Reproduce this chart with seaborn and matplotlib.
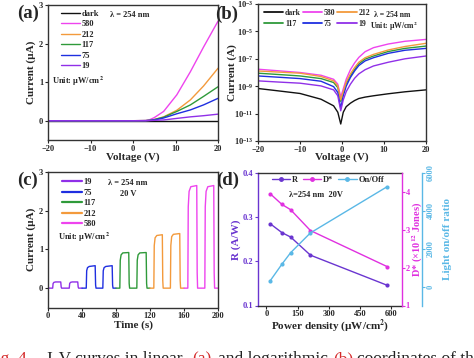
import numpy as np
import pandas as pd
import matplotlib
matplotlib.use("Agg")
import matplotlib.pyplot as plt
import seaborn as sns
from matplotlib.lines import Line2D

# ---------------- data ----------------
# (a) linear I-V (current in uA)
va_volt = [-20, 0, 3, 4, 5, 7.2, 10.3, 13.5, 16.6, 20]
ia_dark = [0, 0, 0, 0, 0, 0, 0, 0, 0, 0]
ia_580 = [0, 0, 0.005, 0.03, 0.08, 0.24, 0.67, 1.27, 1.91, 2.58]
ia_212 = [0, 0, 0.003, 0.01, 0.03, 0.10, 0.27, 0.54, 0.90, 1.36]
ia_117 = [0, 0, 0.003, 0.01, 0.03, 0.09, 0.24, 0.41, 0.63, 0.88]
ia_75 = [0, 0, 0.002, 0.01, 0.02, 0.07, 0.18, 0.28, 0.41, 0.58]
ia_19 = [0, 0, 0.001, 0.004, 0.01, 0.02, 0.06, 0.10, 0.13, 0.17]

# (b) logarithmic I-V (current in A)
vb_volt = [-20, -15, -10, -5, -2, -1, -0.3, 0.3, 1, 2, 3, 4, 5.5, 7.5, 11, 15, 20]
ib_dark = [6.8e-10, 4.5e-10, 2.95e-10, 1.12e-10, 3.7e-11, 1.26e-11, 1.74e-12, 1.26e-11,
           3.2e-11, 5.75e-11, 9.0e-11, 1.26e-10, 1.6e-10, 2.0e-10, 2.8e-10, 3.9e-10, 5.4e-10]
ib_580 = [1.74e-8, 1.32e-8, 1.0e-8, 6.3e-9, 3.2e-9, 1.4e-9, 1.6e-10, 6.3e-10,
          3.2e-9, 1.6e-8, 5.0e-8, 1.26e-7, 3.3e-7, 6.5e-7, 1.2e-6, 1.9e-6, 2.6e-6]
ib_212 = [1.29e-8, 1.07e-8, 8.9e-9, 5.1e-9, 2.45e-9, 1.05e-9, 1.0e-10, 4.0e-10,
          2.0e-9, 7.9e-9, 2.3e-8, 5.6e-8, 1.2e-7, 2.1e-7, 4.4e-7, 7.9e-7, 1.35e-6]
ib_117 = [8.9e-9, 7.1e-9, 5.6e-9, 3.6e-9, 1.86e-9, 7.9e-10, 7.9e-11, 3.2e-10,
          1.6e-9, 5.6e-9, 1.7e-8, 4.3e-8, 9.5e-8, 1.6e-7, 3.4e-7, 5.75e-7, 8.5e-7]
ib_75 = [5.6e-9, 4.5e-9, 3.6e-9, 2.3e-9, 9.3e-10, 3.5e-10, 2.5e-11, 2.0e-10,
         1.0e-9, 4.3e-9, 1.3e-8, 3.2e-8, 7.0e-8, 1.2e-7, 2.5e-7, 4.2e-7, 5.75e-7]
ib_19 = [2.45e-9, 2.0e-9, 1.66e-9, 1.05e-9, 5.4e-10, 2.0e-10, 1.6e-11, 1.0e-10,
         4.0e-10, 1.4e-9, 3.8e-9, 7.9e-9, 1.6e-8, 3.0e-8, 5.6e-8, 1.0e-7, 1.6e-7]

# (c) time response at 20 V (current in uA)
tc_19 = [0, 5.5, 6, 7, 9, 15, 15.5, 16, 25, 25.5, 26.5, 28.5, 35, 35.5, 36, 40]
ic_19 = [0, 0, 0.12, 0.15, 0.16, 0.16, 0.03, 0, 0, 0.12, 0.15, 0.16, 0.16, 0.03, 0, 0]
tc_75 = [40, 45, 45.5, 46.5, 48.5, 55.5, 56, 56.5, 64.5, 65, 66, 68, 75.5, 76, 76.5, 80]
ic_75 = [0, 0, 0.45, 0.53, 0.56, 0.58, 0.08, 0, 0, 0.45, 0.53, 0.56, 0.58, 0.08, 0, 0]
tc_117 = [80, 84.5, 85, 86, 88, 95, 95.5, 96, 104.5, 105, 106, 108, 115.5, 116, 116.5, 120]
ic_117 = [0, 0, 0.72, 0.86, 0.91, 0.92, 0.12, 0, 0, 0.72, 0.86, 0.91, 0.92, 0.12, 0, 0]
tc_212 = [120, 124.5, 125, 126, 128, 134.5, 135, 135.5, 144, 144.5, 145.5, 147.5, 155, 155.5, 156, 160]
ic_212 = [0, 0, 1.1, 1.3, 1.36, 1.38, 0.2, 0, 0, 1.1, 1.33, 1.39, 1.41, 0.2, 0, 0]
tc_580 = [160, 164.5, 165, 166, 168, 175, 175.5, 176, 184.5, 185, 186, 188, 195, 195.5, 196, 200]
ic_580 = [0, 0, 2.1, 2.5, 2.62, 2.65, 0.4, 0, 0, 2.1, 2.5, 2.62, 2.65, 0.4, 0, 0]

# (d) figures of merit vs power density
pd_power = [19, 75, 117, 212, 580]
pd_R = [0.285, 0.265, 0.255, 0.214, 0.146]
pd_Dstar = [3.95, 3.67, 3.53, 2.98, 2.03]
pd_onoff = [313, 1183, 1791, 2835, 5270]

# ---------------- style ----------------
sns.set_theme(style="ticks")
plt.rcParams["font.family"] = ["Liberation Serif", "DejaVu Serif"]
plt.rcParams["font.weight"] = "bold"
plt.rcParams["axes.labelweight"] = "bold"
plt.rcParams["mathtext.fontset"] = "stix"
plt.rcParams["mathtext.default"] = "bf"

C_DARK = "#111111"
C_580 = "#ee44ee"
C_212 = "#f39a3c"
C_117 = "#2f9a3a"
C_75 = "#1f2fe0"
C_19 = "#9030e8"
C_R = "#6a35d0"
C_D = "#e030e0"
C_ON = "#5ab8e6"
TICK = 6
LAB = 8
LEG = 6
LW = 1.0

W, H = 474, 358
fig = plt.figure(figsize=(W / 100, H / 100), dpi=100)


def box(x0, x1, ytop, ybot):
    return [x0 / W, 1 - ybot / H, (x1 - x0) / W, (ybot - ytop) / H]


def style_ax(ax):
    for s in ax.spines.values():
        s.set_linewidth(1.0)
        s.set_color("#333333")
    ax.tick_params(direction="out", length=2.2, width=0.8, labelsize=TICK, pad=1.2)
    for lab in ax.get_xticklabels() + ax.get_yticklabels():
        lab.set_fontweight("bold")


def line(ax, x, y, c, **kw):
    sns.lineplot(x=x, y=y, ax=ax, color=c, linewidth=LW, estimator=None,
                 sort=False, legend=False, **kw)


# ---------------- (a) ----------------
axa = fig.add_axes(box(48, 218, 5, 140))
series_a = [("dark", ia_dark, C_DARK), ("580", ia_580, C_580), ("212", ia_212, C_212),
            ("117", ia_117, C_117), ("75", ia_75, C_75), ("19", ia_19, C_19)]
for name, y, c in series_a:
    line(axa, va_volt, y, c)
axa.set_xlim(-20, 20)
axa.set_ylim(-0.5, 3)
axa.set_xticks([-20, -10, 0, 10, 20])
axa.set_yticks([0, 1, 2, 3])
axa.set_xlabel("Voltage (V)", fontsize=LAB)
axa.set_ylabel("Current (\u00b5A)", fontsize=LAB)
axa.xaxis.set_label_coords(0.5, -0.092)
axa.yaxis.set_label_coords(-0.07, 0.5)
style_ax(axa)
axa.legend(handles=[Line2D([], [], color=c, lw=LW) for _, _, c in series_a],
           labels=[n for n, _, _ in series_a], loc="upper left",
           bbox_to_anchor=(0.075, 0.965), frameon=False,
           handlelength=2.3, handletextpad=0.2, labelspacing=0.3,
           borderpad=0, borderaxespad=0, prop={"weight": "bold", "size": LEG})
axa.text(0.365, 0.926, "\u03bb = 254 nm", transform=axa.transAxes, fontsize=LEG,
         fontweight="bold", va="center", ha="left")
axa.text(0.025, 0.437, "Unit: \u00b5W/cm$^2$", transform=axa.transAxes, fontsize=LEG,
         fontweight="bold", va="center", ha="left")

# ---------------- (b) ----------------
axb = fig.add_axes(box(258, 426, 4, 141))
series_b = [("dark", ib_dark, C_DARK), ("117", ib_117, C_117), ("580", ib_580, C_580),
            ("75", ib_75, C_75), ("212", ib_212, C_212), ("19", ib_19, C_19)]
for name, y, c in series_b:
    line(axb, vb_volt, y, c)
axb.set_yscale("log")
axb.set_xlim(-20, 20)
axb.set_ylim(1e-13, 1e-3)
axb.set_xticks([-20, -10, 0, 10, 20])
axb.set_yticks([1e-13, 1e-11, 1e-9, 1e-7, 1e-5, 1e-3])
axb.set_yticks([], minor=True)
axb.set_xlabel("Voltage (V)", fontsize=LAB)
axb.set_ylabel("Current (A)", fontsize=LAB)
axb.xaxis.set_label_coords(0.5, -0.082)
axb.yaxis.set_label_coords(-0.125, 0.5)
style_ax(axb)
LEGB = 5.6
axb.legend(handles=[Line2D([], [], color=c, lw=LW * 1.3) for _, _, c in series_b],
           labels=[n for n, _, _ in series_b], loc="upper left", ncol=3,
           bbox_to_anchor=(0.036, 0.965), frameon=False,
           handlelength=2.5, handletextpad=0.2, labelspacing=0.35, columnspacing=0.25,
           borderpad=0, borderaxespad=0, prop={"weight": "bold", "size": LEGB})
axb.text(0.69, 0.92, "\u03bb = 254 nm", transform=axb.transAxes, fontsize=LEGB,
         fontweight="bold", va="center", ha="left")
axb.text(0.667, 0.839, "Unit: \u00b5W/cm$^2$", transform=axb.transAxes, fontsize=LEGB,
         fontweight="bold", va="center", ha="left")

# ---------------- (c) ----------------
axc = fig.add_axes(box(48, 218, 172, 307.5))
series_c = [("19", tc_19, ic_19, C_19), ("75", tc_75, ic_75, C_75),
            ("117", tc_117, ic_117, C_117), ("212", tc_212, ic_212, C_212),
            ("580", tc_580, ic_580, C_580)]
for name, t, y, c in series_c:
    line(axc, t, y, c)
axc.set_xlim(0, 200)
axc.set_ylim(-0.5, 3)
axc.set_xticks([0, 40, 80, 120, 160, 200])
axc.set_yticks([0, 1, 2, 3])
axc.set_xlabel("Time (s)", fontsize=LAB)
axc.set_ylabel("Current (\u00b5A)", fontsize=LAB)
axc.xaxis.set_label_coords(0.5, -0.095)
axc.yaxis.set_label_coords(-0.07, 0.5)
style_ax(axc)
axc.legend(handles=[Line2D([], [], color=c, lw=LW * 1.6) for _, _, _, c in series_c],
           labels=[n for n, _, _, _ in series_c], loc="upper left",
           bbox_to_anchor=(0.085, 0.955), frameon=False,
           handlelength=2.3, handletextpad=0.2, labelspacing=0.3,
           borderpad=0, borderaxespad=0, prop={"weight": "bold", "size": LEG})
axc.text(0.353, 0.919, "\u03bb = 254 nm", transform=axc.transAxes, fontsize=LEG,
         fontweight="bold", va="center", ha="left")
axc.text(0.424, 0.838, "20 V", transform=axc.transAxes, fontsize=LEG,
         fontweight="bold", va="center", ha="left")
axc.text(0.059, 0.52, "Unit: \u00b5W/cm$^2$", transform=axc.transAxes, fontsize=LEG,
         fontweight="bold", va="center", ha="left")

# ---------------- (d) ----------------
axd = fig.add_axes(box(258, 401.7, 173, 305.5))
axd2 = axd.twinx()
axd3 = axd.twinx()
sns.lineplot(x=pd_power, y=pd_R, ax=axd, color=C_R, linewidth=LW, marker="o",
             markersize=3, markeredgewidth=0, estimator=None, sort=False, legend=False)
sns.lineplot(x=pd_power, y=pd_Dstar, ax=axd2, color=C_D, linewidth=LW, marker="o",
             markersize=3, markeredgewidth=0, estimator=None, sort=False, legend=False)
sns.lineplot(x=pd_power, y=pd_onoff, ax=axd3, color=C_ON, linewidth=LW, marker="o",
             markersize=3, markeredgewidth=0, estimator=None, sort=False, legend=False)
axd.set_xlim(-40, 651)
axd.set_ylim(0.1, 0.4)
axd2.set_ylim(1, 4.5)
axd3.set_ylim(-1000, 6000)
axd.set_xticks([0, 150, 300, 450, 600])
axd.set_yticks([0.1, 0.2, 0.3, 0.4])
axd2.set_yticks([1, 2, 3, 4])
axd3.set_yticks([0, 2000, 4000, 6000])
style_ax(axd)
style_ax(axd2)
style_ax(axd3)
axd2.tick_params(axis="y", length=2.0, pad=0.8)
axd.set_xlabel("Power density (\u00b5W/cm$^2$)", fontsize=LAB)
axd.set_ylabel("R (A/W)", fontsize=LAB, color=C_R)
axd.xaxis.set_label_coords(0.5, -0.088)
axd.yaxis.set_label_coords(-0.118, 0.5)
axd.spines["left"].set_color(C_R)
axd.tick_params(axis="y", colors=C_R)
axd.spines["right"].set_visible(False)
for a in (axd2, axd3):
    for s in ("left", "top", "bottom"):
        a.spines[s].set_visible(False)
axd2.spines["right"].set_color(C_D)
axd2.tick_params(axis="y", colors=C_D)
axd2.set_ylabel("D* (\u00d710$^{12}$ Jones)", fontsize=7.5, color=C_D)
axd2.yaxis.set_label_coords(1.062, 0.5)
axd3.spines["right"].set_position(("axes", 1.141))
axd3.spines["right"].set_color(C_ON)
axd3.tick_params(axis="y", colors=C_ON, labelrotation=90)
for lab in axd3.get_yticklabels():
    lab.set_va("center")
axd3.set_ylabel("Light on/off ratio", fontsize=LAB, color=C_ON)
axd3.yaxis.set_label_coords(1.285, 0.5)
hd = [Line2D([], [], color=C_R, lw=LW, marker="o", ms=2.5),
      Line2D([], [], color=C_D, lw=LW, marker="o", ms=2.5),
      Line2D([], [], color=C_ON, lw=LW, marker="o", ms=2.5)]
axd.legend(handles=hd, labels=["R", "D*", "On/Off"], loc="upper left", ncol=3,
           bbox_to_anchor=(0.097, 0.975), frameon=False,
           handlelength=2.2, handletextpad=0.2, columnspacing=0.6,
           borderpad=0, borderaxespad=0, prop={"weight": "bold", "size": LEG})
axd.text(0.216, 0.834, "\u03bb=254 nm  20V", transform=axd.transAxes, fontsize=LEG,
         fontweight="bold", va="center", ha="left")

# ---------------- panel labels ----------------
for s, x, y in [("(a)", 17, 13), ("(b)", 215, 14), ("(c)", 17, 180), ("(d)", 216, 180)]:
    fig.text(x / W, 1 - y / H, s, fontsize=13.5, fontweight="bold", va="center", ha="left")

# ---------------- caption (cut off at bottom, as in the source) ----------------
cap_y = 1 - 363.5 / H
RED = "#d42a2a"
CAP = 12.5
fig.text(27 / W, cap_y, "Fig. 4", color=RED, fontsize=CAP, ha="right", va="baseline",
         fontweight="normal")
for s, x, c in [("I-V curves in linear", 47, "#222222"), ("(a)", 192, RED),
                ("and logarithmic", 218, "#222222"), ("(b)", 333, RED),
                ("coordinates of the", 357, "#222222")]:
    fig.text(x / W, cap_y, s, color=c, fontsize=CAP, ha="left", va="baseline",
             fontweight="normal")

fig.savefig("out.png", dpi=100)
